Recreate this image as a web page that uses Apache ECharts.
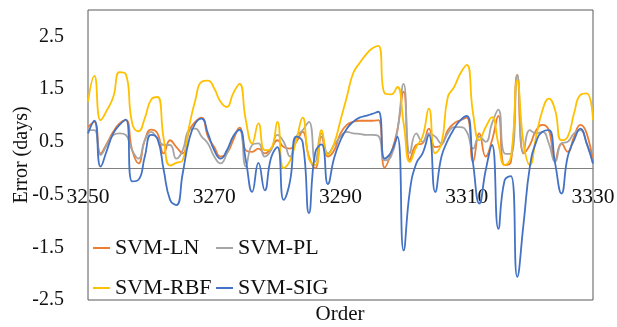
<!DOCTYPE html>
<html>
<head>
<meta charset="utf-8">
<script src="https://cdn.jsdelivr.net/npm/echarts@6/dist/echarts.min.js"></script>
<style>
  html, body { margin: 0; padding: 0; background: #fff; }
  #chart { width: 617px; height: 327px; }
</style>
</head>
<body>
<div id="chart"></div>
<script>
// error per order, four SVM kernels
var orderStart = 3250;
var orderEnd = 3330;

var svmLN = [0.78, 0.88, 0.28, 0.47, 0.69, 0.85, 0.91, 0.34, 0.09, 0.53,
  0.73, 0.66, 0.28, 0.53, 0.40, 0.28, 0.70, 0.88, 0.96, 0.60,
  0.40, 0.22, 0.28, 0.53, 0.77, 0.34, 0.31, 0.37, 0.28, 0.37,
  0.53, 0.40, 0.37, 0.50, 0.69, 0.22, 0.00, 0.60, 0.22, 0.34,
  0.66, 0.82, 0.88, 0.90, 0.90, 0.90, 0.91, 0.01, 0.28, 0.72,
  1.45, 0.15, 0.44, 0.47, 0.75, 0.40, 0.44, 0.72, 0.85, 0.91,
  0.96, 0.12, 0.66, 0.22, 0.53, 0.99, 0.06, 0.12, 1.77, 0.28,
  0.44, 0.72, 0.82, 0.72, 0.15, 0.47, 0.31, 0.60, 0.82, 0.66, 0.09];

var svmPL = [0.72, 0.72, 0.25, 0.44, 0.63, 0.66, 0.63, 0.34, 0.18, 0.53,
  0.69, 0.56, 0.44, 0.44, 0.18, 0.34, 0.72, 0.75, 0.60, 0.47,
  0.22, 0.09, 0.28, 0.60, 0.72, 0.03, 0.44, 0.47, 0.22, 0.34,
  0.63, 0.50, 0.22, 0.60, 0.72, 0.88, 0.12, 0.66, 0.28, 0.44,
  0.60, 0.69, 0.66, 0.65, 0.63, 0.63, 0.61, 0.15, 0.22, 0.70,
  1.60, 0.28, 0.66, 0.50, 0.66, 0.60, 0.47, 0.66, 0.78, 0.78,
  0.69, 0.37, 0.60, 0.50, 0.85, 1.11, 0.28, 0.27, 1.77, 0.28,
  0.72, 0.66, 0.69, 0.47, 0.12, 0.47, 0.50, 0.66, 0.72, 0.47, 0.09];

var svmRBF = [1.26, 1.75, 0.91, 1.10, 1.35, 1.82, 1.78, 0.85, 0.70, 0.95,
  1.30, 1.35, 0.55, 0.05, 0.10, 0.15, 0.78, 1.29, 1.64, 1.66,
  1.51, 1.26, 1.16, 1.42, 1.60, 0.91, 0.47, 0.85, 0.34, 0.37,
  0.88, 0.00, 0.14, 0.53, 0.96, 0.18, 0.06, 0.72, 0.25, 0.47,
  0.91, 1.35, 1.80, 1.99, 2.15, 2.27, 2.32, 1.42, 1.40, 1.54,
  0.85, 0.12, 0.40, 0.60, 1.13, 0.28, 0.47, 1.35, 1.54, 1.80,
  1.96, 1.04, 0.53, 0.78, 0.97, 0.47, 0.06, 0.22, 1.67, 0.47,
  0.06, 0.60, 1.10, 1.32, 1.10, 0.53, 0.60, 1.04, 1.39, 1.42, 0.91];

var svmSIG = [0.66, 0.90, 0.03, 0.34, 0.66, 0.82, 0.92, -0.25, -0.22, 0.22,
  0.63, 0.56, -0.04, -0.60, -0.70, -0.10, 0.53, 0.85, 0.94, 0.66,
  0.34, 0.18, 0.34, 0.60, 0.73, 0.15, -0.45, 0.10, -0.42, 0.20,
  0.40, -0.60, -0.25, 0.60, 0.50, -0.85, 0.30, 0.45, -0.30, 0.20,
  0.53, 0.75, 0.88, 0.96, 0.99, 1.03, 1.07, 0.18, 0.30, 0.60,
  -1.56, -0.42, 0.09, 0.28, 0.63, -0.45, 0.22, 0.53, 0.75, 0.91,
  0.99, 0.09, -0.67, -0.04, 0.44, -1.15, -0.23, -0.15, -2.06, -1.05,
  0.03, 0.50, 0.69, 0.72, 0.09, -0.48, 0.22, 0.53, 0.75, 0.47, 0.09];

var seriesNames = ['SVM-LN', 'SVM-PL', 'SVM-RBF', 'SVM-SIG'];
var seriesColors = ['#ED7D31', '#A5A5A5', '#FFC000', '#4472C4'];
var seriesValues = [svmLN, svmPL, svmRBF, svmSIG];

function pairs(vals) {
  var out = [];
  for (var i = 0; i < vals.length; i++) {
    out.push([orderStart + i, vals[i]]);
  }
  return out;
}

var serif = '"Liberation Serif", "Times New Roman", serif';

var series = [];
for (var k = 0; k < seriesNames.length; k++) {
  series.push({
    name: seriesNames[k],
    type: 'line',
    data: pairs(seriesValues[k]),
    smooth: 0.5,
    symbol: 'none',
    showSymbol: false,
    color: seriesColors[k],
    lineStyle: { width: 1.8, color: seriesColors[k] },
    z: k === 3 ? 5 : 3
  });
}

var legendText = { fontFamily: serif, fontSize: 22, color: '#111', lineHeight: 24 };

// plot box: top 10, bottom 300, y from -2.5 to 3 -> zero sits 132px above the bottom
var yMin = -2.5, yMax = 3;
var gridTop = 10, gridBottom = 27, chartH = 327;
var plotH = chartH - gridTop - gridBottom;
var zeroLift = plotH * (0 - yMin) / (yMax - yMin);

var chart = echarts.init(document.getElementById('chart'));
chart.setOption({
  animation: false,
  title: {
    text: 'Order',
    left: 340,
    top: 304,
    textAlign: 'center',
    padding: 0,
    textStyle: { fontFamily: serif, fontSize: 21, fontWeight: 'normal', color: '#111' }
  },
  legend: [
    {
      data: ['SVM-LN', 'SVM-RBF'],
      orient: 'vertical',
      left: 93, top: 236,
      padding: 0,
      icon: 'rect',
      itemWidth: 17, itemHeight: 2, itemGap: 16, itemTextGap: 3,
      textStyle: legendText
    },
    {
      data: ['SVM-PL', 'SVM-SIG'],
      orient: 'vertical',
      left: 216, top: 236,
      padding: 0,
      icon: 'rect',
      itemWidth: 17, itemHeight: 2, itemGap: 16, itemTextGap: 3,
      textStyle: legendText
    }
  ],
  grid: {
    left: 88, right: 24, top: gridTop, bottom: gridBottom,
    show: true,
    borderColor: '#595959',
    borderWidth: 1,
    containLabel: false,
    outerBoundsMode: 'none'
  },
  xAxis: {
    type: 'value',
    min: orderStart, max: orderEnd, interval: 20,
    offset: -zeroLift,
    axisLine: { onZero: false, lineStyle: { color: '#808080', width: 1 } },
    axisTick: { show: false },
    splitLine: { show: false },
    axisLabel: {
      fontFamily: serif, fontSize: 21.5, color: '#111', margin: 18,
      formatter: function (v) { return String(v); }
    }
  },
  yAxis: {
    type: 'value',
    min: yMin, max: yMax, interval: 1,
    name: 'Error (days)',
    nameLocation: 'middle',
    nameGap: 56,
    nameMoveOverlap: false,
    nameTextStyle: { fontFamily: serif, fontSize: 20, color: '#111' },
    axisLine: { show: false },
    axisTick: { show: false },
    splitLine: { show: false },
    axisLabel: {
      fontFamily: serif, fontSize: 20, color: '#111', margin: 24,
      formatter: function (v) {
        if (v > 2.6) return '';
        return String(Math.round(v * 10) / 10);
      }
    }
  },
  series: series
});
</script>
</body>
</html>
